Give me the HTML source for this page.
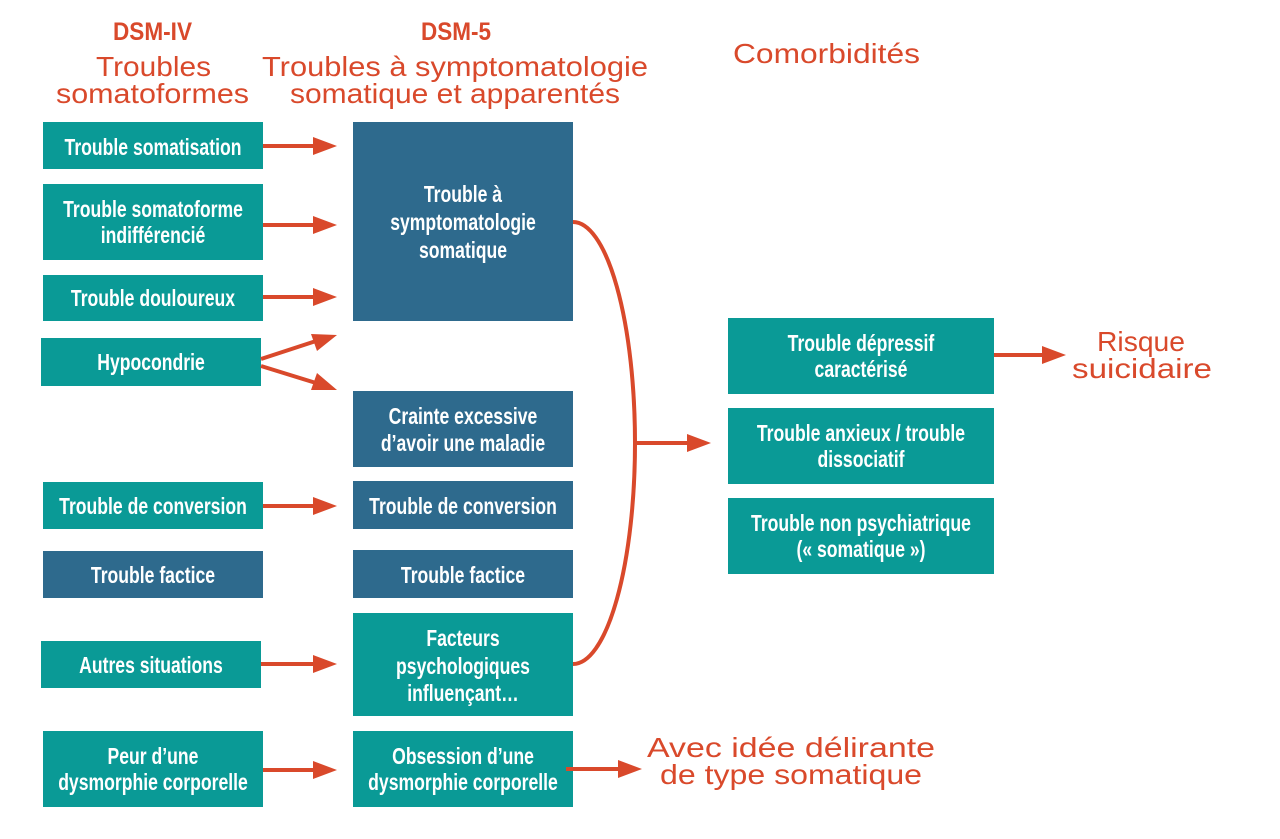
<!DOCTYPE html>
<html><head><meta charset="utf-8"><style>
html,body{margin:0;padding:0;background:#fff;}
svg{display:block;}
.bx{font-family:"Liberation Sans",sans-serif;font-weight:bold;font-size:23px;fill:#fff;text-anchor:middle;}
.hw{font-family:"Liberation Sans",sans-serif;font-size:28px;fill:#d9492b;}
.hd{font-family:"Liberation Sans",sans-serif;font-weight:bold;font-size:25px;fill:#d9492b;}
</style></head><body>
<svg width="1280" height="839" viewBox="0 0 1280 839" xmlns="http://www.w3.org/2000/svg">
<rect width="1280" height="839" fill="#fff"/>
<!-- headers -->
<text class="hd" x="113" y="40" textLength="79" lengthAdjust="spacingAndGlyphs">DSM-IV</text>
<text class="hd" x="421" y="40" textLength="70" lengthAdjust="spacingAndGlyphs">DSM-5</text>
<text class="hw" x="96" y="76" textLength="115" lengthAdjust="spacingAndGlyphs">Troubles</text>
<text class="hw" x="56" y="103" textLength="193" lengthAdjust="spacingAndGlyphs">somatoformes</text>
<text class="hw" x="262" y="76" textLength="386" lengthAdjust="spacingAndGlyphs">Troubles à symptomatologie</text>
<text class="hw" x="290" y="103" textLength="330" lengthAdjust="spacingAndGlyphs">somatique et apparentés</text>
<text class="hw" x="733" y="63" font-size="26" textLength="187" lengthAdjust="spacingAndGlyphs">Comorbidités</text>
<text class="hw" x="1097" y="351" font-size="26" textLength="88" lengthAdjust="spacingAndGlyphs">Risque</text>
<text class="hw" x="1072" y="378" font-size="26" textLength="140" lengthAdjust="spacingAndGlyphs">suicidaire</text>
<text class="hw" x="647" y="757" font-size="26" textLength="288" lengthAdjust="spacingAndGlyphs">Avec idée délirante</text>
<text class="hw" x="660" y="784" font-size="26" textLength="262" lengthAdjust="spacingAndGlyphs">de type somatique</text>

<!-- boxes -->
<g>
<rect x="43" y="122" width="220" height="47" fill="#0a9a96"/>
<rect x="43" y="184" width="220" height="76" fill="#0a9a96"/>
<rect x="43" y="275" width="220" height="46" fill="#0a9a96"/>
<rect x="41" y="338" width="220" height="48" fill="#0a9a96"/>
<rect x="43" y="482" width="220" height="47" fill="#0a9a96"/>
<rect x="43" y="551" width="220" height="47" fill="#2e6a8d"/>
<rect x="41" y="641" width="220" height="47" fill="#0a9a96"/>
<rect x="43" y="731" width="220" height="76" fill="#0a9a96"/>

<rect x="353" y="122" width="220" height="199" fill="#2e6a8d"/>
<rect x="353" y="391" width="220" height="76" fill="#2e6a8d"/>
<rect x="353" y="481" width="220" height="48" fill="#2e6a8d"/>
<rect x="353" y="550" width="220" height="48" fill="#2e6a8d"/>
<rect x="353" y="613" width="220" height="103" fill="#0a9a96"/>
<rect x="353" y="731" width="220" height="76" fill="#0a9a96"/>

<rect x="728" y="318" width="266" height="76" fill="#0a9a96"/>
<rect x="728" y="408" width="266" height="76" fill="#0a9a96"/>
<rect x="728" y="498" width="266" height="76" fill="#0a9a96"/>
</g>

<!-- box texts (scaled horizontally 0.765) -->
<g transform="scale(0.765,1)">
<text class="bx" x="200" y="155">Trouble somatisation</text>
<text class="bx" x="200" y="217">Trouble somatoforme</text>
<text class="bx" x="200" y="243">indifférencié</text>
<text class="bx" x="200" y="306">Trouble douloureux</text>
<text class="bx" x="197.39" y="370">Hypocondrie</text>
<text class="bx" x="200" y="514">Trouble de conversion</text>
<text class="bx" x="200" y="583">Trouble factice</text>
<text class="bx" x="197.39" y="673">Autres situations</text>
<text class="bx" x="200" y="764">Peur d’une</text>
<text class="bx" x="200" y="790">dysmorphie corporelle</text>

<text class="bx" x="605.23" y="202">Trouble à</text>
<text class="bx" x="605.23" y="230">symptomatologie</text>
<text class="bx" x="605.23" y="258">somatique</text>
<text class="bx" x="605.23" y="424">Crainte excessive</text>
<text class="bx" x="605.23" y="451">d’avoir une maladie</text>
<text class="bx" x="605.23" y="514">Trouble de conversion</text>
<text class="bx" x="605.23" y="583">Trouble factice</text>
<text class="bx" x="605.23" y="646">Facteurs</text>
<text class="bx" x="605.23" y="674">psychologiques</text>
<text class="bx" x="605.23" y="701">influençant…</text>
<text class="bx" x="605.23" y="764">Obsession d’une</text>
<text class="bx" x="605.23" y="790">dysmorphie corporelle</text>

<text class="bx" x="1125.49" y="351">Trouble dépressif</text>
<text class="bx" x="1125.49" y="377">caractérisé</text>
<text class="bx" x="1125.49" y="441">Trouble anxieux / trouble</text>
<text class="bx" x="1125.49" y="467">dissociatif</text>
<text class="bx" x="1125.49" y="531">Trouble non psychiatrique</text>
<text class="bx" x="1125.49" y="557">(« somatique »)</text>
</g>

<!-- connectors -->
<g stroke="#d9492b" stroke-width="4" fill="none">
<line x1="263" y1="146" x2="316" y2="146"/>
<line x1="263" y1="225" x2="316" y2="225"/>
<line x1="263" y1="297" x2="316" y2="297"/>
<line x1="261" y1="359" x2="316" y2="341"/>
<line x1="261" y1="366" x2="316" y2="383"/>
<line x1="263" y1="506" x2="316" y2="506"/>
<line x1="261" y1="664" x2="316" y2="664"/>
<line x1="263" y1="770" x2="316" y2="770"/>
<line x1="566" y1="769" x2="620" y2="769"/>
<line x1="994" y1="355" x2="1045" y2="355"/>
<line x1="635" y1="443" x2="690" y2="443"/>
<path d="M573,222 A62,221 0 0 1 573,664"/>
</g>
<g fill="#d9492b">
<polygon points="337,146 313,137 313,155"/>
<polygon points="337,225 313,216 313,234"/>
<polygon points="337,297 313,288 313,306"/>
<polygon points="337,335 311,334 317,351"/>
<polygon points="337,390 317,373 311,390"/>
<polygon points="337,506 313,497 313,515"/>
<polygon points="337,664 313,655 313,673"/>
<polygon points="337,770 313,761 313,779"/>
<polygon points="642,769 618,760 618,778"/>
<polygon points="1066,355 1042,346 1042,364"/>
<polygon points="711,443 687,434 687,452"/>
</g>
</svg>
</body></html>
